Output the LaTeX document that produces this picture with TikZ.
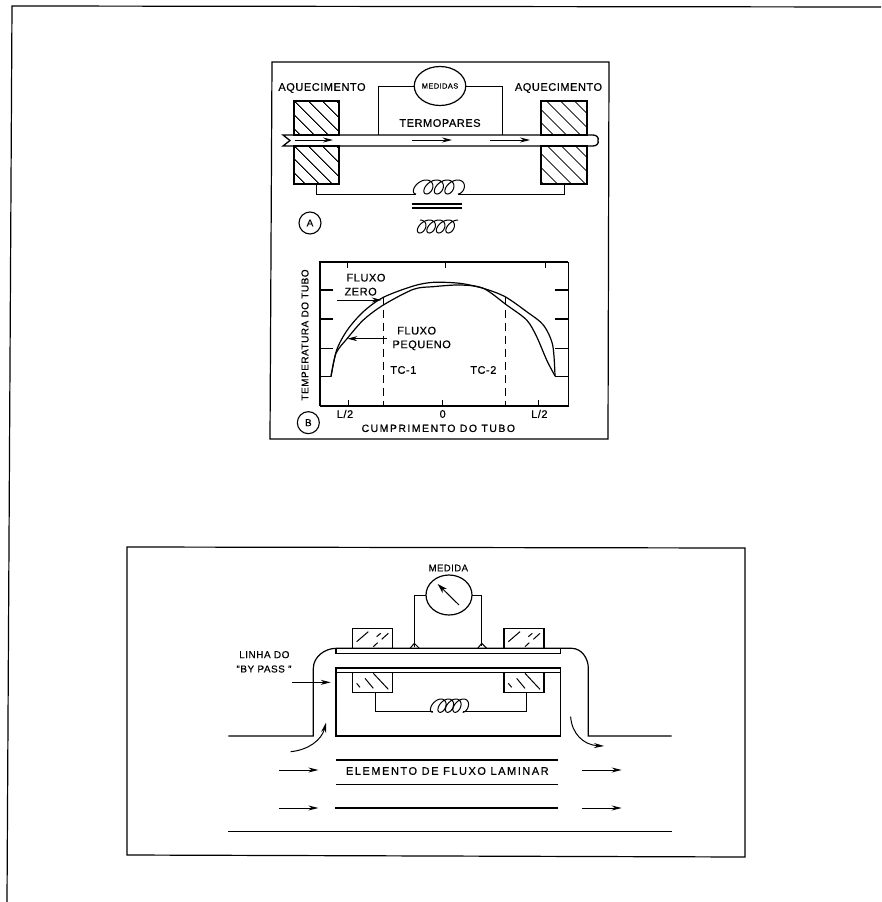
\documentclass[tikz,border=0pt]{standalone}
\usepackage{fontspec}
\setmainfont[LetterSpace=5,FakeBold=0.5]{Liberation Sans}
\newfontfamily\widefont[LetterSpace=14,FakeBold=0.5]{Liberation Sans}
\usetikzlibrary{arrows.meta,patterns.meta,shapes.geometric}
% x0, x1, y centre, y radius, x radius, turns, slant
\newcommand{\coilup}[7]{\draw plot[smooth,domain=0:360*#6,samples=121,variable=\t] ({#1+(#2-#1)*(\t/(360*#6))-#5*sin(\t)+#7*(1-cos(\t))},{#3+#4*cos(\t)});}
\newcommand{\coildn}[7]{\draw plot[smooth,domain=0:360*#6,samples=121,variable=\t] ({#1+(#2-#1)*(\t/(360*#6))+#5*sin(\t)-#7*(1-cos(\t))},{#3-#4*cos(\t)});}
\tikzset{
  every path/.style={line width=1pt},
  lbl/.style={font=\fontsize{11}{12}\selectfont,inner sep=0pt},
  lblw/.style={font=\widefont\fontsize{11}{12}\selectfont,inner sep=0pt},
  lbls/.style={font=\fontsize{10}{11}\selectfont,inner sep=0pt},
  hatchblk/.style={draw,line width=1.2pt,inner sep=0pt,outer sep=0pt,pattern={Lines[angle=-45,distance=10.5pt,line width=1pt]}},
  plainblk/.style={draw,line width=1.2pt,inner sep=0pt,outer sep=0pt,minimum width=40pt,minimum height=20pt},
  meter/.style={draw,ellipse,line width=1.2pt,inner sep=0pt,outer sep=0pt},
  tag/.style={draw,circle,line width=1.1pt,minimum size=22pt,inner sep=0pt,font=\fontsize{10}{11}\selectfont},
  flow/.style={-{Stealth[length=10pt,width=5pt]},line width=1pt},
  frameline/.style={line width=1.2pt},
  hatchline/.style={line width=1pt}
}
\begin{document}
\begin{tikzpicture}[x=1pt,y=-1pt]
\useasboundingbox (0,0) rectangle (881,902);
% page edge
\draw[frameline] (881,7) -- (12,6) -- (7,902);
% upper frame
\draw[frameline] (270,439) -- (272,62) -- (609,62) -- (608,439) -- cycle;
% panel A
\node[hatchblk,minimum width=45pt,minimum height=34pt] (bl1) at (316.5,118) {};
\node[hatchblk,minimum width=45pt,minimum height=38pt] (bl2) at (316.5,165) {};
\node[hatchblk,minimum width=46pt,minimum height=34pt] (br1) at (564,118) {};
\node[hatchblk,minimum width=46pt,minimum height=38pt] (br2) at (564,165) {};
\draw[line width=1.3pt] (283,135) -- (593,135) .. controls (597,135) and (599,138) .. (598,140.5) .. controls (599,143) and (597,146) .. (593,146) -- (283,146) -- (290,140.5) -- cycle;
\node[lbl] (aql) at (322,88) {AQUECIMENTO};
\node[lbl] (aqr) at (558.5,88) {AQUECIMENTO};
\node[meter,minimum width=46pt,minimum height=39pt,font=\fontsize{7.5}{8}\selectfont] (mA) at (440,86) {MEDIDAS};
\coordinate (tl) at (378,135);
\coordinate (tr) at (502,135);
\draw (mA.west) -| (tl);
\draw (mA.east) -| (tr);
\node[lbl] (term) at (440,123) {TERMOPARES};
\coordinate (a1s) at (295,140);\coordinate (a1e) at (333,140);
\coordinate (a2s) at (412,140);\coordinate (a2e) at (452,140);
\coordinate (a3s) at (490,140);\coordinate (a3e) at (530,140);
\draw[flow] (a1s) -- (a1e);
\draw[flow] (a2s) -- (a2e);
\draw[flow] (a3s) -- (a3e);
\coordinate (cl) at (416,194);
\coordinate (cr) at (458,194);
\draw (bl2.south) |- (cl);
\draw (br2.south) |- (cr);
\coilup{416}{458}{187}{7}{6.5}{4}{2.5}
\draw[line width=1.2pt] (412,204) -- (462,204);
\draw[line width=1.2pt] (412,208) -- (462,208);
\coildn{420}{458}{226.5}{6.5}{6}{4}{2.5}
\node[tag] (tA) at (310,223) {A};
% panel B
\begin{scope}[shift={(260,240)},x=0.33333pt,y=-0.33333pt]
\draw[line width=1.3pt] (180,410) -- (180,66) -- (925,66);
\draw[line width=1.3pt] (180,498) -- (180,410);
\draw[line width=1.3pt] (180,498) -- (925,498) -- (925,66);
\foreach \yy in {150,237,325} {\draw[line width=1.2pt] (180,\yy) -- (220,\yy); \draw[line width=1.2pt] (925,\yy) -- (885,\yy);}
\foreach \xx in {262,555,855} {\draw (\xx,66) -- (\xx,84);}
\foreach \xx in {265,548,835} {\draw (\xx,498) -- (\xx,480);}
\draw[line width=1.2pt] plot[smooth,tension=.5] coordinates {(213,410) (230,330) (262,270) (310,215) (370,172) (460,138) (520,127) (600,130) (670,145) (735,170) (800,215) (850,255) (878,315) (885,408)};
\draw[line width=1.2pt] plot[smooth,tension=.5] coordinates {(213,410) (228,340) (262,295) (310,240) (370,195) (460,148) (520,140) (600,135) (670,145) (740,195) (800,240) (830,290) (860,360) (885,408)};
\draw[line width=1.2pt] (180,410) -- (213,410);
\draw[line width=1.2pt] (885,410) -- (925,410);
\draw[dashed,dash pattern=on 8pt off 5pt] (370,170) -- (370,498);
\draw[dashed,dash pattern=on 8pt off 5pt] (737,170) -- (737,498);
\node[lbl] (fz1) at (318,113) {FLUXO};
\node[lbl] (fz2) at (302,155) {ZERO};
\node[lbl] (fp1) at (470,272) {FLUXO};
\node[lbl] (fp2) at (485,316) {PEQUENO};
\coordinate (z1) at (232,180);\coordinate (z2) at (365,180);
\coordinate (p1) at (380,296);\coordinate (p2) at (262,296);
\draw[flow] (z1) -- (z2);
\draw[flow] (p1) -- (p2);
\node[lbl] (tc1) at (430,390) {TC-1};
\node[lbl] (tc2) at (670,390) {TC-2};
\node[lbl] (l1) at (255,522) {L/2};
\node[lbl] (l0) at (548,522) {0};
\node[lbl] (l2) at (838,522) {L/2};
\node[tag] (tB) at (145,548) {B};
\node[lblw,font=\widefont\fontsize{10.5}{12}\selectfont] (xl) at (535,565) {CUMPRIMENTO DO TUBO};
\node[lbls,rotate=90] (yl) at (135,285) {TEMPERATURA DO TUBO};
\end{scope}
% lower frame
\draw[frameline] (127,547) -- (745,548) -- (745,857) -- (127,855) -- cycle;
\begin{scope}[shift={(210,500)},x=0.33333pt,y=-0.33333pt]
\node[lbl,font=\fontsize{9.5}{10}\selectfont] (med) at (715,204) {MEDIDA};
\node[meter,minimum width=46pt,minimum height=40pt] (mB) at (717,285) {};
\coordinate (wl) at (613,440);\coordinate (wr) at (815,437);
\draw (mB.west) -| (wl);
\draw (mB.east) -| (wr);
\coordinate (n1) at (747,315);\coordinate (n2) at (683,252);
\draw[flow,-{Stealth[length=10pt,width=6pt]}] (n1) -- (n2);
\draw (600,445) -- (613,430) -- (628,445);
\draw (803,445) -- (815,430) -- (830,445);
\node[plainblk] (u1) at (487.5,415) {};
\node[plainblk] (u2) at (942,415) {};
\node[plainblk] (d1) at (487.5,548) {};
\node[plainblk] (d2) at (942,548) {};
\draw[hatchline] (440,425) -- (475,395) (490,440) -- (503,428) (515,418) -- (535,400) (500,410) -- (512,400);
\draw[hatchline] (895,425) -- (930,395) (945,440) -- (958,428) (970,418) -- (990,400) (955,410) -- (967,400);
\draw[hatchline] (440,550) -- (450,562) (490,520) -- (535,568) (465,535) -- (490,565);
\draw[hatchline] (895,550) -- (905,562) (945,520) -- (990,568) (920,535) -- (945,565);
% by-pass tube
\draw[line width=1.2pt] (55,708) -- (310,708) -- (310,505) .. controls (310,470) and (345,445) .. (378,445) -- (1085,445) .. controls (1115,445) and (1135,475) .. (1135,505) -- (1135,708) -- (1385,708);
\draw[line width=1.2pt] (378,447) -- (378,460) -- (1052,460) -- (1052,447);
\draw[line width=1.2pt] (378,708) -- (378,504) -- (1052,504) -- (1052,708) -- cycle;
\draw[line width=1.2pt] (378,517) -- (1052,517);
\coordinate (cbl) at (668,635);\coordinate (cbr) at (758,635);
\draw ([xshift=2.7pt]d1.south) |- (cbl);
\draw ([xshift=2.7pt]d2.south) |- (cbr);
\coilup{668}{758}{617}{20}{16}{4}{7}
\coordinate (b1) at (245,547);\coordinate (b2) at (362,547);
\draw[flow] (b1) -- (b2);
\coordinate (c1) at (242,755);\coordinate (c2) at (348,668);
\draw[flow] (c1) .. controls (295,750) and (335,720) .. (c2);
\coordinate (c3) at (1082,650);\coordinate (c4) at (1182,738);
\draw[flow] (c3) .. controls (1085,700) and (1120,735) .. (c4);
\node[lbl,font=\fontsize{10}{11}\selectfont] (lin1) at (163,464) {LINHA DO};
\node[lbl,font=\fontsize{10}{11}\selectfont] (lin2) at (162,507) {"BY PASS "};
\draw[line width=1.1pt] (378,780) -- (1045,780);
\draw[line width=1.1pt] (378,853) -- (1043,853);
\draw[line width=1.3pt] (375,924) -- (1045,924);
\draw[line width=1.3pt] (55,995) -- (1385,995);
\node[lblw] (elem) at (712,813) {ELEMENTO DE FLUXO LAMINAR};
\coordinate (f1) at (208,810);\coordinate (f2) at (325,810);
\coordinate (f3) at (207,924);\coordinate (f4) at (325,924);
\coordinate (f5) at (1117,810);\coordinate (f6) at (1235,810);
\coordinate (f7) at (1117,924);\coordinate (f8) at (1235,924);
\draw[flow] (f1) -- (f2);
\draw[flow] (f3) -- (f4);
\draw[flow] (f5) -- (f6);
\draw[flow] (f7) -- (f8);
\end{scope}
\end{tikzpicture}
\end{document}
